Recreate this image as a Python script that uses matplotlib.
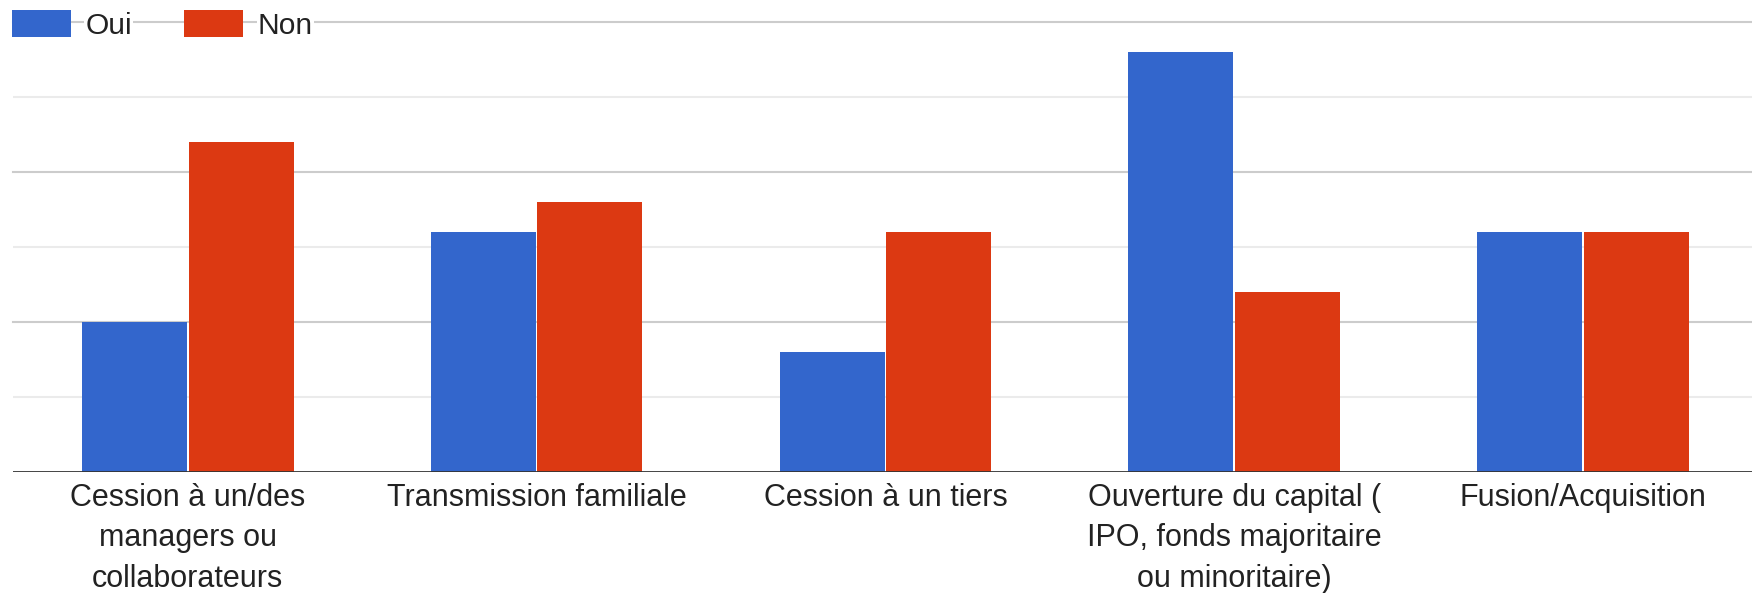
import matplotlib
matplotlib.use("Agg")
import matplotlib.pyplot as plt
import numpy as np

categories = [
    "Cession à un/des\nmanagers ou\ncollaborateurs",
    "Transmission familiale",
    "Cession à un tiers",
    "Ouverture du capital (\nIPO, fonds majoritaire\nou minoritaire)",
    "Fusion/Acquisition",
]
oui = [5, 8, 4, 14, 8]
non = [11, 9, 8, 6, 8]
series_names = ["Oui", "Non"]
colors = ["#3366CC", "#DC3912"]

plt.rcParams['font.family'] = ['Liberation Sans', 'DejaVu Sans']

W, H = 1752, 593
fig = plt.figure(figsize=(W / 100, H / 100), dpi=100)
left_px, right_px = 13.3, 1757.6
base_px, top_px = 471.5, 22.3
ax = fig.add_axes([left_px / W, (H - base_px) / H, (right_px - left_px) / W, (base_px - top_px) / H])

x = np.arange(len(categories))
bw = 0.301
off = 0.153
ax.bar(x - off, oui, width=bw, color=colors[0], label=series_names[0], zorder=3)
ax.bar(x + off, non, width=bw, color=colors[1], label=series_names[1], zorder=3)

ax.set_xlim(-0.5, len(categories) - 0.5)
ax.set_ylim(0, 15)

for v in [2.5, 7.5, 12.5]:
    ax.axhline(v, color="#ebebeb", lw=1.5, zorder=1)
for v in [5, 10, 15]:
    ax.axhline(v, color="#cccccc", lw=1.5, zorder=1, clip_on=False)
ax.axhline(0, color="#333333", lw=2.0, zorder=4)

for s in ax.spines.values():
    s.set_visible(False)
ax.set_yticks([])
ax.set_xticks(x)
ax.set_xticklabels(categories, fontsize=22, color="#222222", linespacing=1.47)
ax.tick_params(axis="x", length=0, pad=8)

leg = ax.legend(loc="center left", bbox_to_anchor=(12 / W, (H - 25) / H),
                bbox_transform=fig.transFigure, ncol=2, frameon=False,
                fontsize=21.6, handlelength=1.97, handleheight=1.0,
                handletextpad=0.47, columnspacing=1.75, borderpad=0,
                borderaxespad=0)
for t in leg.get_texts():
    t.set_color("#222222")
    t.set_bbox(dict(facecolor="white", edgecolor="none", boxstyle="square,pad=0.03"))
leg.set_zorder(10)

fig.savefig("out.png", dpi=100)
